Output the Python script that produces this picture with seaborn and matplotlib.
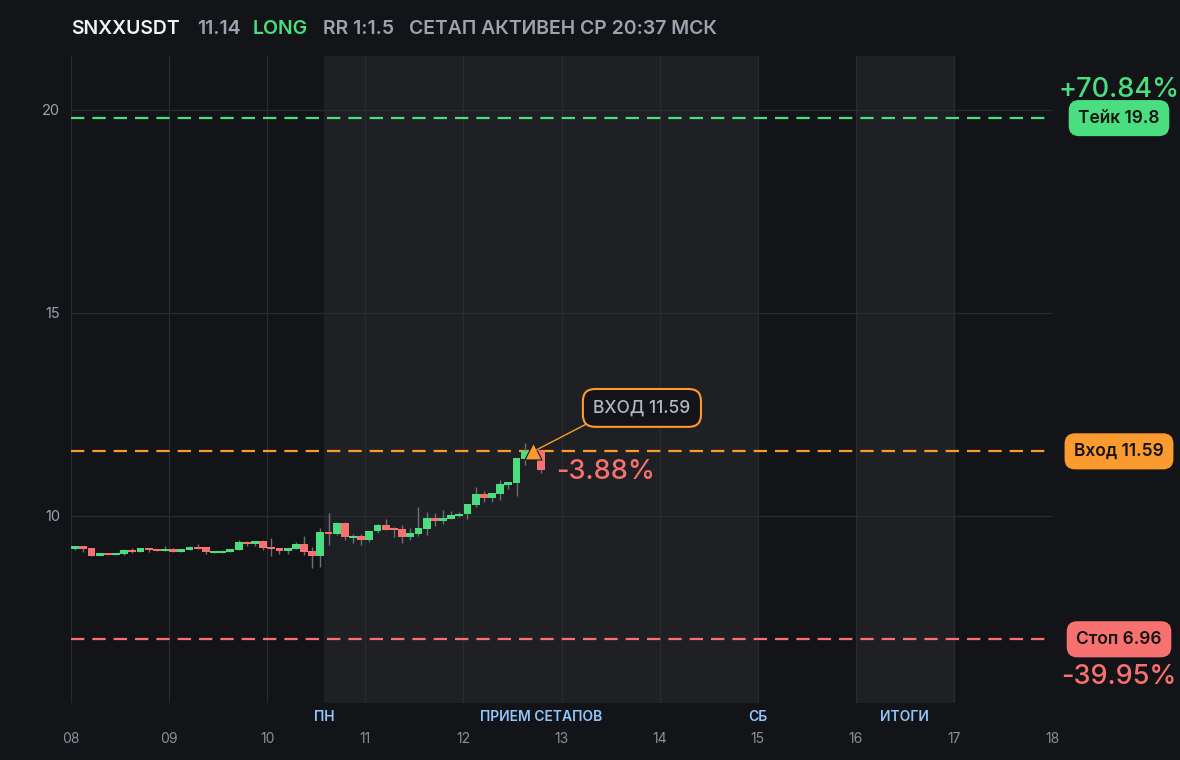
import numpy as np
import pandas as pd
import seaborn as sns
import matplotlib.pyplot as plt
from matplotlib import transforms

BG = '#131418'
SHADE = '#1f2024'
GRID = '#2a2b31'
GREEN = '#4ade80'
RED = '#f87171'
ORANGE = '#fb9a2e'
WICK = '#6b7078'
GRAY = '#9ca3af'
BLUE = '#93c5fd'

sns.set_theme(style="dark", rc={
    "axes.facecolor": BG,
    "figure.facecolor": BG,
    "axes.edgecolor": BG,
    "grid.color": GRID,
    "text.color": GRAY,
})
plt.rcParams['font.family'] = ['Inter', 'DejaVu Sans']

# 2-часовые свечи SNXUSDT, с 08 числа
opens = [9.19, 9.26, 9.21, 9.02, 9.09, 9.04, 9.06, 9.16, 9.11, 9.21,
         9.19, 9.14, 9.19, 9.11, 9.16, 9.24, 9.24, 9.09, 9.09, 9.11,
         9.16, 9.36, 9.31, 9.38, 9.24, 9.21, 9.14, 9.19, 9.31, 9.14,
         9.02, 9.61, 9.56, 9.83, 9.46, 9.51, 9.41, 9.63, 9.78, 9.68,
         9.68, 9.48, 9.56, 9.68, 9.95, 9.88, 9.93, 10.00, 10.05, 10.27,
         10.54, 10.44, 10.54, 10.76, 10.81, 11.40, 11.60, 11.63]
closes = [9.26, 9.19, 9.02, 9.09, 9.04, 9.09, 9.16, 9.11, 9.21, 9.16,
          9.14, 9.19, 9.11, 9.19, 9.24, 9.19, 9.11, 9.14, 9.14, 9.19,
          9.36, 9.31, 9.38, 9.21, 9.19, 9.14, 9.21, 9.31, 9.11, 9.02,
          9.61, 9.56, 9.83, 9.48, 9.51, 9.41, 9.63, 9.78, 9.66, 9.66,
          9.48, 9.58, 9.70, 9.95, 9.88, 9.95, 10.02, 10.05, 10.30, 10.54,
          10.44, 10.57, 10.79, 10.84, 11.43, 11.60, 11.62, 11.14]
highs = [9.26, 9.26, 9.21, 9.09, 9.09, 9.09, 9.19, 9.21, 9.21, 9.21,
         9.19, 9.26, 9.21, 9.19, 9.26, 9.31, 9.24, 9.14, 9.16, 9.19,
         9.41, 9.38, 9.38, 9.41, 9.46, 9.21, 9.21, 9.36, 9.51, 9.24,
         9.70, 10.07, 9.85, 9.85, 9.56, 9.56, 9.63, 9.80, 9.93, 9.73,
         9.78, 9.70, 10.22, 10.10, 10.07, 10.15, 10.12, 10.10, 10.30, 10.71,
         10.62, 10.57, 10.89, 10.84, 11.43, 11.80, 11.70, 11.63]
lows = [9.15, 9.11, 9.02, 9.02, 9.04, 9.04, 9.04, 9.09, 9.11, 9.11,
        9.14, 9.14, 9.11, 9.11, 9.16, 9.19, 9.06, 9.09, 9.09, 9.11,
        9.16, 9.26, 9.26, 9.16, 9.02, 9.06, 9.06, 9.19, 9.04, 8.72,
        8.74, 9.29, 9.53, 9.41, 9.34, 9.29, 9.36, 9.58, 9.66, 9.48,
        9.34, 9.41, 9.51, 9.53, 9.75, 9.80, 9.93, 9.98, 9.93, 10.22,
        10.34, 10.34, 10.39, 10.67, 10.49, 11.26, 11.45, 11.06]

take, entry, stop = 19.8, 11.59, 6.96
take_pct, stop_pct, cur_pct = '+70.84%', '-39.95%', '-3.88%'
entry_idx = 56
days = [8, 9, 10, 11, 12, 13, 14, 15, 16, 17, 18]
day_labels = ['08', '09', '10', '11', '12', '13', '14', '15', '16', '17', '18']
sessions = [(10.583, 15.0), (16.0, 17.0)]
session_labels = [('ПН', 10.583), ('ПРИЕМ СЕТАПОВ', 12.79), ('СБ', 15.0), ('ИТОГИ', 16.5)]

df = pd.DataFrame({'open': opens, 'close': closes, 'high': highs, 'low': lows})
df['t'] = 8 + (np.arange(len(df)) * 2 + 1) / 24
df['up'] = df['close'] >= df['open']
df['bot'] = df[['open', 'close']].min(axis=1)
df['h'] = (df['close'] - df['open']).abs().clip(lower=0.03)

fig = plt.figure(figsize=(11.8, 7.6), dpi=100)
ax = fig.add_axes([71 / 1180, 1 - 703 / 760, 981 / 1180, 647 / 760])

for a, b in sessions:
    ax.axvspan(a, b, color=SHADE, zorder=0, lw=0)

ax.vlines(df['t'], df['low'], df['high'], color=WICK, lw=1, zorder=2)
ax.bar(df['t'], df['h'], bottom=df['bot'], width=0.08,
       color=np.where(df['up'], GREEN, RED), lw=0, zorder=3)

for lvl, c in [(take, GREEN), (entry, ORANGE), (stop, RED)]:
    ax.axhline(lvl, color=c, lw=1.6, ls=(0, (6, 3.6)), zorder=1.5)

et = df['t'][entry_idx]
sns.scatterplot(x=[et], y=[entry], marker='^', s=150, color=ORANGE,
                edgecolor=BG, linewidth=0.8, ax=ax, zorder=6, legend=False)

ax.annotate('ВХОД 11.59', xy=(et + 0.04, entry + 0.04), xytext=(13.82, 12.66),
            ha='center', va='center', color='#b3b7c0', fontsize=12.5, fontweight='medium',
            bbox=dict(boxstyle='round,pad=0.6,rounding_size=0.7', fc=BG, ec=ORANGE, lw=1.5),
            arrowprops=dict(arrowstyle='-', color=ORANGE, lw=1, relpos=(0.08, 0),
                            shrinkA=0, shrinkB=0), zorder=7)
ax.text(12.95, 11.08, cur_pct, color=RED, fontsize=19.5, fontweight='medium',
        ha='left', va='center', zorder=7)

ax.set_xlim(8, 18)
ax.set_ylim(5.39, 21.33)
ax.set_xticks(days, day_labels)
ax.set_yticks([10, 15, 20], ['10', '15', '20'])
ax.tick_params(axis='x', colors='#8b8f98', labelsize=10, pad=21, length=0)
ax.tick_params(axis='y', colors=GRAY, labelsize=10.5, pad=8, length=0)
ax.grid(True, color=GRID, lw=0.9)
ax.set_axisbelow(True)
for s in ax.spines.values():
    s.set_visible(False)

tr = transforms.blended_transform_factory(ax.transData, ax.transAxes)
for lab, x in session_labels:
    ax.text(x, -0.022, lab, transform=tr, ha='center', va='center',
            color=BLUE, fontsize=10, fontweight='semibold')

rt = transforms.blended_transform_factory(ax.transAxes, ax.transData)
for lvl, lab, c in [(take, 'Тейк 19.8', GREEN), (entry, 'Вход 11.59', ORANGE), (stop, 'Стоп 6.96', RED)]:
    ax.text(1.0683, lvl, lab, transform=rt, ha='center', va='center', color='#141414',
            fontsize=12.5, fontweight='semibold', clip_on=False,
            bbox=dict(boxstyle='round,pad=0.55,rounding_size=0.6', fc=c, ec='none'))
ax.annotate(take_pct, xy=(1.0683, take), xycoords=rt, xytext=(0, 20.5),
            textcoords='offset points', ha='center', va='center', color=GREEN,
            fontsize=19.5, fontweight='medium', annotation_clip=False)
ax.annotate(stop_pct, xy=(1.0683, stop), xycoords=rt, xytext=(0, -27.5),
            textcoords='offset points', ha='center', va='center', color=RED,
            fontsize=19.5, fontweight='medium', annotation_clip=False)

hy = 1 - 29 / 760
header = [('SNXXUSDT', 71, '#f2f3f5'), ('11.14', 197, GRAY), ('LONG', 253, GREEN),
          ('RR 1:1.5', 323, GRAY), ('СЕТАП АКТИВЕН СР 20:37 МСК', 409, GRAY)]
for txt, x, c in header:
    fig.text(x / 1180, hy, txt, ha='left', va='center', color=c,
             fontsize=14, fontweight='semibold')

fig.savefig('out.png', dpi=100, facecolor=BG)
